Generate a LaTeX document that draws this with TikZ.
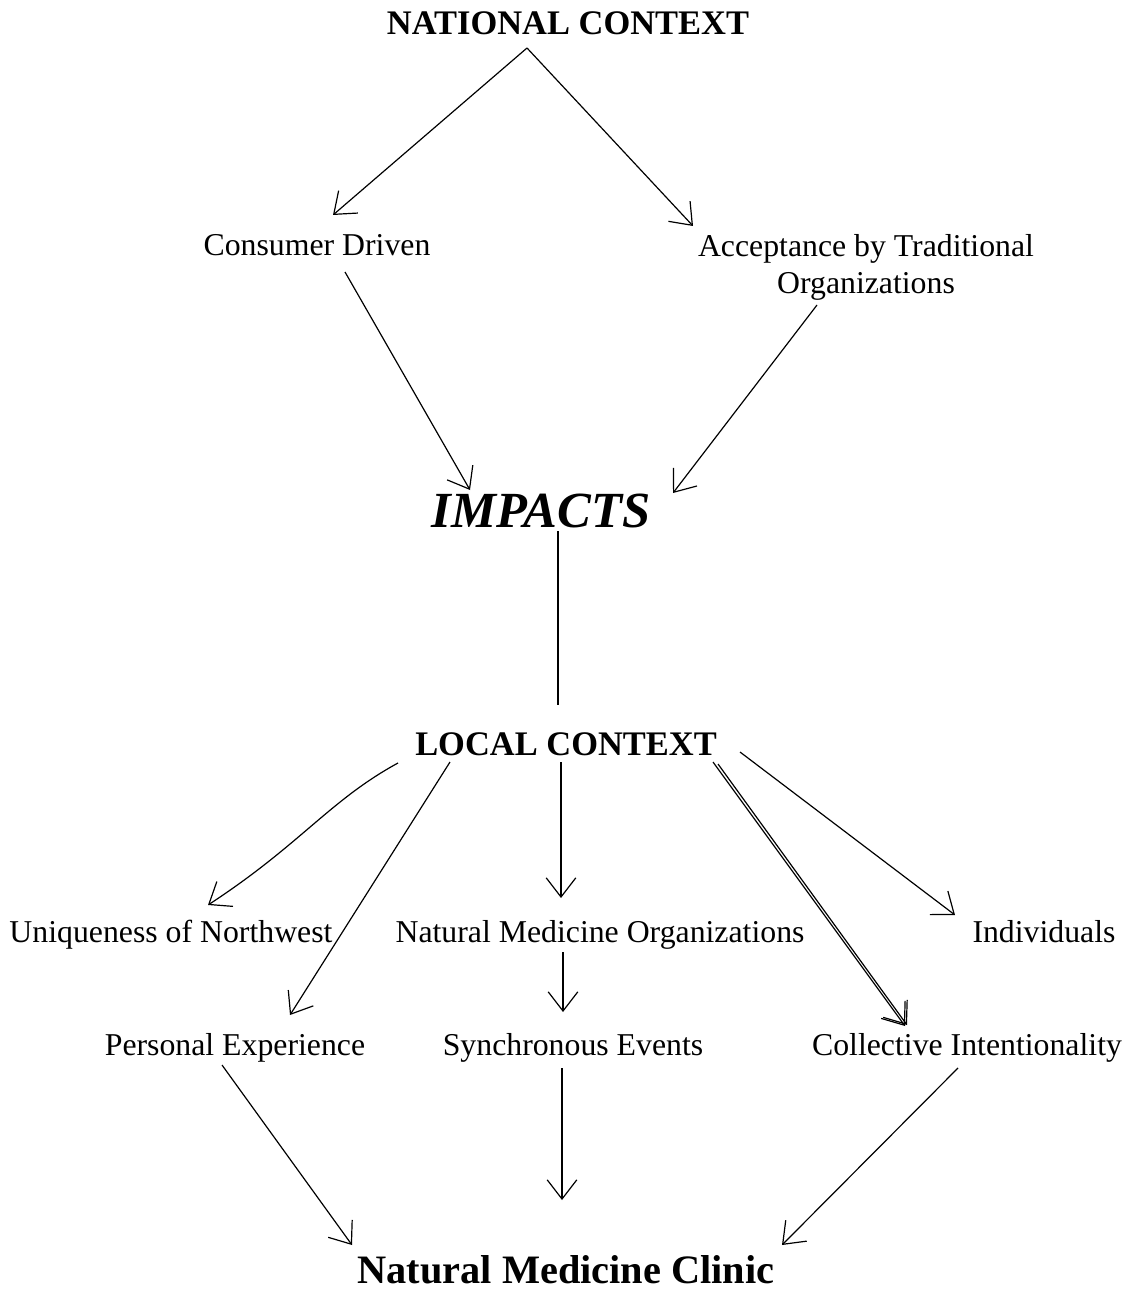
\documentclass[tikz,border=0pt]{standalone}
\usepackage{fontspec}
\setmainfont{Liberation Serif}
\usetikzlibrary{arrows.meta,positioning}

\begin{document}
\begin{tikzpicture}[x=0.025cm, y=-0.025cm,
    head/.style={inner sep=0, anchor=base, font=\fontsize{24.5}{28}\selectfont\bfseries},
    item/.style={inner sep=0, anchor=base, font=\fontsize{22.6}{27}\selectfont, align=center},
    arrow/.style={-{Straight Barb[length=4.8mm, width=7.4mm]}, line width=0.85pt}]

    \useasboundingbox (0,0) rectangle (1135,1292);

    % national level
    \node[head] (national) at (568,35) {NATIONAL CONTEXT};
    \node[item] (consumer) at (317,256) {Consumer Driven};
    \node[item] (accept) at (866,294) {Acceptance by Traditional\\Organizations};
    \node[inner sep=0, anchor=base, font=\fontsize{36}{40}\selectfont\bfseries\itshape] (impacts) at (541,527) {IMPACTS};

    % local level
    \node[head] (local) at (566,755) {LOCAL CONTEXT};
    \node[item] (unique) at (171,942) {Uniqueness of Northwest};
    \node[item] (natorg) at (600,942) {Natural Medicine Organizations};
    \node[item] (indiv) at (1044,942) {Individuals};
    \node[item] (personal) at (235,1055) {Personal Experience};
    \node[item] (synch) at (573,1055) {Synchronous Events};
    \node[item] (collect) at (967,1055) {Collective Intentionality};
    \node[inner sep=0, anchor=base, font=\fontsize{28.7}{32}\selectfont\bfseries] (clinic) at (566,1283) {Natural Medicine Clinic};

    \draw[arrow] ([shift={(-41,13)}]national.base) -- ([shift={(16,-41)}]consumer.base);
    \draw[arrow] ([shift={(-41,13)}]national.base) -- ([shift={(-173,-68)}]accept.base);
    \draw[arrow] ([shift={(28,16)}]consumer.base) -- ([shift={(-71,-37)}]impacts.base);
    \draw[arrow] ([shift={(-49,11)}]accept.base) -- ([shift={(132,-34)}]impacts.base);
    \draw[line width=0.85pt] ([shift={(17,4)}]impacts.base) -- ([shift={(-8,-50)}]local.base);

    \draw[arrow] ([shift={(-168,8)}]local.base) .. controls (330,800) and (300,845) .. ([shift={(37,-37)}]unique.base);
    \draw[arrow] ([shift={(-116,7)}]local.base) -- ([shift={(55,-40)}]personal.base);
    \draw[arrow] ([shift={(-5,7)}]local.base) -- ([shift={(-39,-44)}]natorg.base);
    \draw[arrow] ([shift={(-37,10)}]natorg.base) -- ([shift={(-10,-43)}]synch.base);
    \draw[arrow] ([shift={(147,7)}]local.base) -- ([shift={(-62,-29)}]collect.base);
    \draw[arrow] ([shift={(152,9)}]local.base) -- ([shift={(-60,-30)}]collect.base);
    \draw[arrow] ([shift={(174,-3)}]local.base) -- ([shift={(-89,-27)}]indiv.base);

    \draw[arrow] ([shift={(-13,10)}]personal.base) -- ([shift={(-214,-38)}]clinic.base);
    \draw[arrow] ([shift={(-11,13)}]synch.base) -- ([shift={(-4,-83)}]clinic.base);
    \draw[arrow] ([shift={(-9,13)}]collect.base) -- ([shift={(216,-38)}]clinic.base);
\end{tikzpicture}
\end{document}
